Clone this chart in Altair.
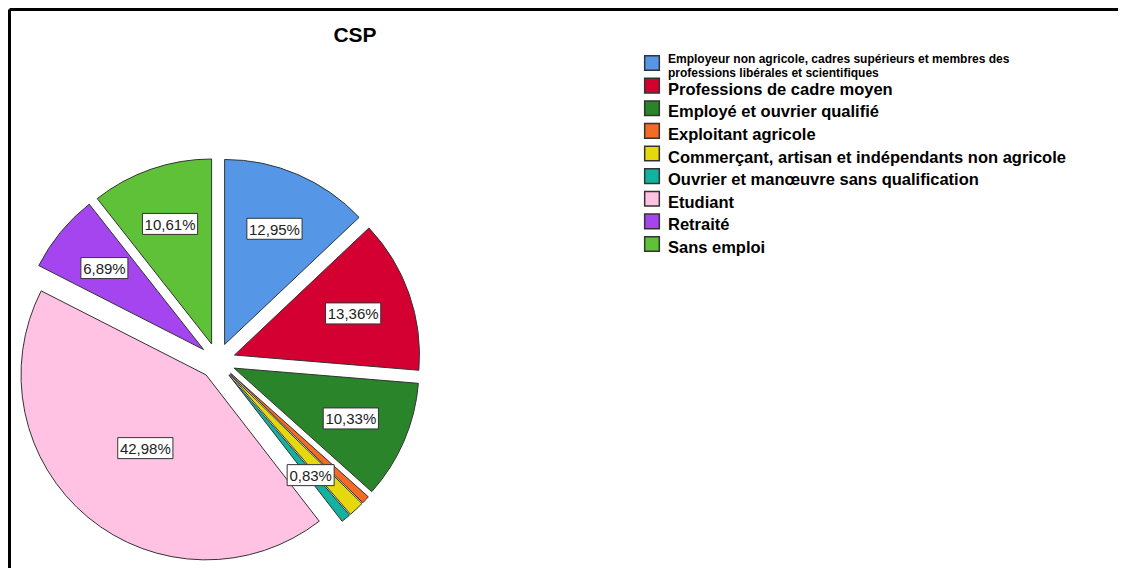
import math
import altair as alt
import pandas as pd

# ---- data ----
categories = [
    "Employeur non agricole, cadres supérieurs et membres des professions libérales et scientifiques",
    "Professions de cadre moyen",
    "Employé et ouvrier qualifié",
    "Exploitant agricole",
    "Commerçant, artisan et indépendants non agricole",
    "Ouvrier et manœuvre sans qualification",
    "Etudiant",
    "Retraité",
    "Sans emploi",
]
legend_text = [
    "Employeur non agricole, cadres supérieurs et membres des\nprofessions libérales et scientifiques",
    "Professions de cadre moyen",
    "Employé et ouvrier qualifié",
    "Exploitant agricole",
    "Commerçant, artisan et indépendants non agricole",
    "Ouvrier et manœuvre sans qualification",
    "Etudiant",
    "Retraité",
    "Sans emploi",
]
values = [12.95, 13.36, 10.33, 0.69, 1.36, 0.83, 42.98, 6.89, 10.61]
colors = ["#5597E6", "#D50032", "#2A8429", "#F56A24", "#E6D80F",
          "#12B2A0", "#FFC2E2", "#A545F0", "#5EC137"]
hidden_labels = ["Exploitant agricole",
                 "Commerçant, artisan et indépendants non agricole"]
title_text = "CSP"

# ---- layout constants (pixels inside the chart) ----
W, H = 1110, 560
CX, CY, R, D = 209.5, 353, 185, 18
FONT = "Liberation Sans"
TOTAL = sum(values)

df = pd.DataFrame({"idx": list(range(len(categories))), "category": categories,
                   "value": values, "legend": legend_text})

color = alt.Color("category:N", scale=alt.Scale(domain=categories, range=colors), legend=None)

base = (
    alt.Chart(df)
    .transform_window(cum="sum(value)", sort=[alt.SortField("idx")], frame=[None, 0])
    .transform_calculate(start="datum.cum - datum.value")
    .transform_calculate(mid=f"(datum.start + datum.value/2)/{TOTAL}*2*PI")
    .transform_calculate(half=f"datum.value/{TOTAL}*PI")
    .transform_calculate(px=f"{CX} + {D}*sin(datum.mid)")
    .transform_calculate(py=f"{CY} - {D}*cos(datum.mid)")
    .transform_calculate(lr=f"{D} + 2*{R}*sin(datum.half)/(3*datum.half) + 6")
    .transform_calculate(lx=f"{CX} + datum.lr*sin(datum.mid)")
    .transform_calculate(ly=f"{CY} - datum.lr*cos(datum.mid)")
    .transform_calculate(lab="replace(format(datum.value, '.2f'), '.', ',') + '%'")
    .transform_calculate(bw="length(datum.lab)*8.2 + 6")
    .transform_calculate(x1="datum.lx - datum.bw/2", x2="datum.lx + datum.bw/2",
                         y1="datum.ly - 10.5", y2="datum.ly + 10.5")
)

arcs = base.mark_arc(outerRadius=R, stroke="#333333", strokeWidth=1).encode(
    theta=alt.Theta("start:Q", scale=alt.Scale(domain=[0, TOTAL], range=[0, 2 * math.pi])),
    theta2="cum:Q",
    x=alt.X("px:Q", scale=None),
    y=alt.Y("py:Q", scale=None),
    color=color,
)

lab_base = base.transform_filter(
    "indexof(" + str(hidden_labels).replace("'", '"') + ", datum.category) < 0"
)
boxes = lab_base.mark_rect(fill="white", stroke="#333333", strokeWidth=1).encode(
    x=alt.X("x1:Q", scale=None), x2="x2:Q",
    y=alt.Y("y1:Q", scale=None), y2="y2:Q",
)
labels = lab_base.mark_text(font=FONT, fontSize=15, color="#222222",
                            align="center", baseline="middle", dy=1).encode(
    x=alt.X("lx:Q", scale=None), y=alt.Y("ly:Q", scale=None), text="lab:N",
)

leg_y = alt.Y("category:N", sort=categories, axis=None,
              scale=alt.Scale(type="point", domain=categories, range=[55, 236], padding=0))
leg_sq = alt.Chart(df).mark_square(size=215, stroke="#333333", strokeWidth=1.5, opacity=1).encode(
    x=alt.value(644), y=leg_y, color=color,
)
leg_txt_first = alt.Chart(df).transform_filter("datum.idx == 0").mark_text(
    font=FONT, fontWeight="bold", fontSize=12, align="left", baseline="top", dy=-9.5,
    lineHeight=14.5, lineBreak="\n", color="black").encode(
    x=alt.value(660), y=leg_y, text="legend:N",
)
leg_txt = alt.Chart(df).transform_filter("datum.idx > 0").mark_text(
    font=FONT, fontWeight="bold", fontSize=16.5, align="left", baseline="top", dy=-4,
    color="black").encode(
    x=alt.value(660), y=leg_y, text="legend:N",
)

title = alt.Chart(pd.DataFrame({"t": [title_text]})).mark_text(
    font=FONT, fontWeight="bold", fontSize=21, color="black", baseline="middle"
).encode(text="t:N", x=alt.value(347), y=alt.value(27.5))

frame_df = pd.DataFrame({"k": [0]})
frame_top = alt.Chart(frame_df).mark_rule(color="black", strokeWidth=3).encode(
    x=alt.value(1.5), x2=alt.value(W), y=alt.value(1.5))
frame_left = alt.Chart(frame_df).mark_rule(color="black", strokeWidth=3).encode(
    x=alt.value(1.5), y=alt.value(1.5), y2=alt.value(H))

chart = (
    alt.layer(frame_top, frame_left, arcs, boxes, labels, leg_sq, leg_txt_first, leg_txt, title)
    .resolve_scale(x="independent", y="independent")
    .properties(width=W, height=H, padding=0, background="white")
    .configure_view(stroke=None)
)

chart.save("out.html", embed_options={"renderer": "svg", "actions": False})
